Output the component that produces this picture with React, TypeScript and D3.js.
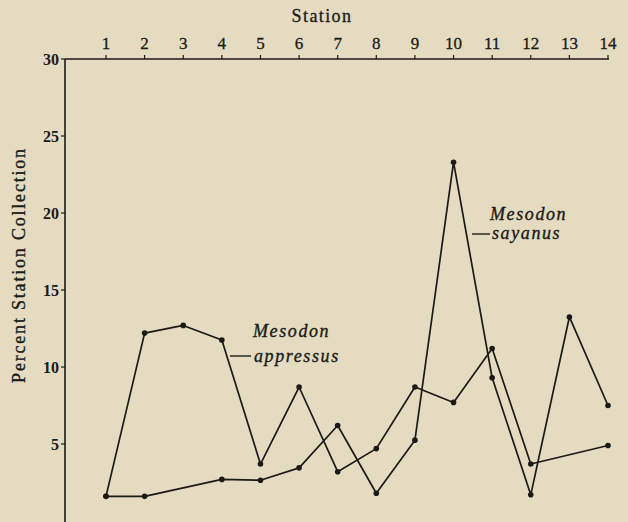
import * as d3 from "d3";

// station numbers along the top axis
const stations = [1, 2, 3, 4, 5, 6, 7, 8, 9, 10, 11, 12, 13, 14];
// percent of station collection (null = no point plotted)
const appressus = [1.6, 12.2, 12.7, 11.75, 3.7, 8.7, 3.2, 4.7, 8.7, 7.7, 11.2, 3.7, null, 4.9];
const sayanus = [1.6, 1.6, null, 2.7, 2.65, 3.45, 6.2, 1.8, 5.25, 23.3, 9.3, 1.7, 13.25, 7.5];
const yTicks = [5, 10, 15, 20, 25, 30];

const W = 628;
const H = 522;
const FONT = "'Liberation Serif', 'Times New Roman', serif";
const INK = "#1c1a17";

export default function App() {
  const x = d3.scaleLinear().domain([1, 14]).range([106, 608]);
  const y = d3.scaleLinear().domain([0, 30]).range([521, 59]);
  const axisLeft = 65;
  const axisTop = y(30);
  const axisRight = 609;

  const pts = (vals: (number | null)[]) =>
    stations
      .map((s, i) => ({ s, v: vals[i] }))
      .filter((d) => d.v !== null) as { s: number; v: number }[];

  const line = d3
    .line<{ s: number; v: number }>()
    .x((d) => x(d.s))
    .y((d) => y(d.v));

  const series = [pts(appressus), pts(sayanus)];

  return (
    <svg
      width={W}
      height={H}
      style={{ position: "absolute", left: 0, top: 0, background: "#e4dbc1" }}
    >
      <rect width={W} height={H} fill="#e4dbc1" />

      {/* top axis */}
      <text x={322} y={22} textAnchor="middle" fontFamily={FONT} fontSize={18} letterSpacing={1.4}
        fill={INK} stroke={INK} strokeWidth={0.3}>
        Station
      </text>
      <line x1={axisLeft} x2={axisRight} y1={axisTop} y2={axisTop} stroke={INK} strokeWidth={1.6} />
      {stations.map((s) => (
        <g key={s} transform={`translate(${x(s)},${axisTop})`}>
          <line y1={0} y2={-4} stroke={INK} strokeWidth={1.2} />
          <text y={-10} textAnchor="middle" fontFamily={FONT} fontSize={17} fill={INK} stroke={INK} strokeWidth={0.3}>
            {s}
          </text>
        </g>
      ))}

      {/* left axis */}
      <line x1={axisLeft} x2={axisLeft} y1={axisTop} y2={H} stroke={INK} strokeWidth={1.6} />
      {yTicks.map((t) => (
        <g key={t} transform={`translate(${axisLeft},${y(t)})`}>
          <line x1={0} x2={-4} stroke={INK} strokeWidth={1.2} />
          <text x={-6} dy="0.35em" textAnchor="end" fontFamily={FONT} fontSize={16} fontWeight="bold" fill={INK}>
            {t}
          </text>
        </g>
      ))}
      <text
        transform="translate(25,265) rotate(-90)"
        textAnchor="middle"
        fontFamily={FONT}
        fontSize={18}
        letterSpacing={1.8}
        fill={INK}
        stroke={INK}
        strokeWidth={0.35}
      >
        Percent Station Collection
      </text>

      {/* series */}
      {series.map((d, i) => (
        <g key={i}>
          <path d={line(d) ?? ""} fill="none" stroke={INK} strokeWidth={1.7} strokeLinejoin="round" />
          {d.map((p) => (
            <circle key={p.s} cx={x(p.s)} cy={y(p.v)} r={2.8} fill={INK} />
          ))}
        </g>
      ))}

      {/* labels */}
      <g fontFamily={FONT} fontStyle="italic" fontSize={18} letterSpacing={1.6} fill={INK} stroke={INK} strokeWidth={0.35}>
        <text x={253} y={337}>Mesodon</text>
        <line x1={230} x2={251} y1={356} y2={356} stroke={INK} strokeWidth={1.4} />
        <text x={254} y={362}>appressus</text>
        <text x={490} y={220}>Mesodon</text>
        <line x1={472} x2={490} y1={234} y2={234} stroke={INK} strokeWidth={1.4} />
        <text x={492} y={239}>sayanus</text>
      </g>
    </svg>
  );
}
